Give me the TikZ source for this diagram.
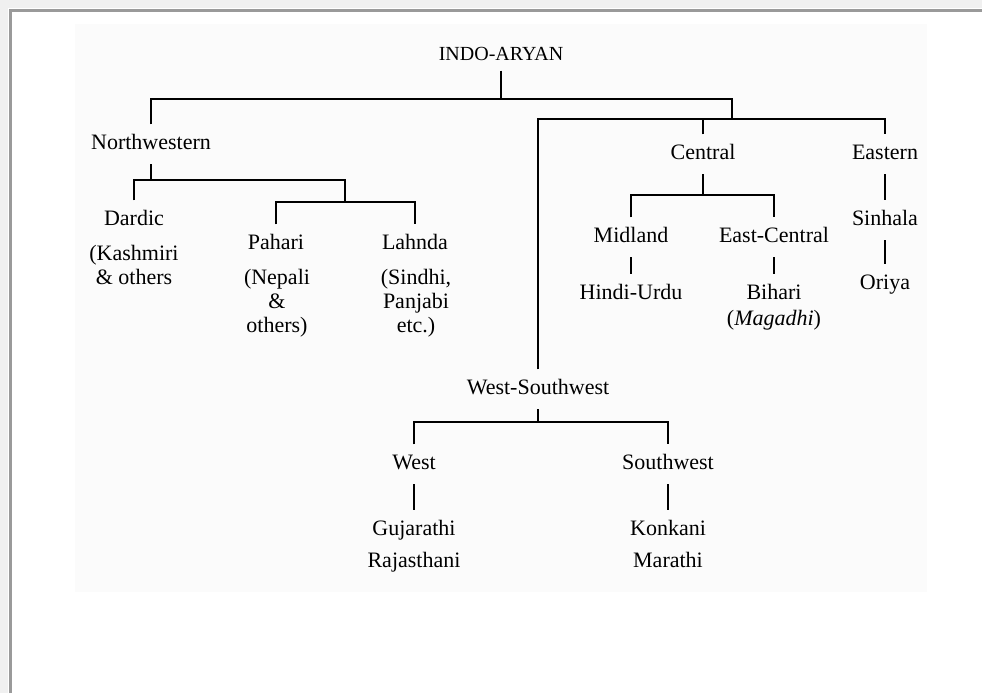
\documentclass[tikz,border=0pt]{standalone}
\usepackage{fontspec}
\setmainfont{Liberation Serif}
\usepackage{tikz}

\definecolor{rim}{HTML}{F0F0F0}
\definecolor{rule}{HTML}{9A9A9A}
\definecolor{paper}{HTML}{FBFBFB}

\tikzset{
	lang/.style={font=\fontsize{16.5}{18}\selectfont, text height=10.9pt, text depth=3.6pt, inner xsep=2pt, inner ysep=7.5pt},
	title/.style={font=\fontsize{15}{18}\selectfont, text height=9.9pt, text depth=3.3pt, inner ysep=4pt},
	gloss/.style={font=\fontsize{16.5}{18}\selectfont, align=center, inner sep=0pt, anchor=north},
	branch/.style={line width=0.8pt},
}

\begin{document}
\begin{tikzpicture}[x=0.75pt, y=-0.75pt]
	
	\useasboundingbox (0,0) rectangle (982,693);
	\fill[rim] (0,0) rectangle (982,693);
	\fill[white] (8,8) rectangle (982,693);
	\draw[rule, line width=2.25pt] (10,693) -- (10,10) -- (982,10);
	\fill[paper] (75,24) rectangle (927,592);
	
	\node[title] (indo) at (501,56.2) {INDO-ARYAN};
	
	\node[lang] (nw) at (151,144.4) {Northwestern};
	\node[lang] (central) at (703,154.4) {Central};
	\node[lang] (eastern) at (885,154.4) {Eastern};
	\node[lang] (wsw) at (538,389.4) {West-Southwest};
	
	\node[lang] (dardic) at (134,220.4) {Dardic};
	\node[gloss] (dardicnote) at (134,245) {(Kashmiri\\\& others};
	\node[lang] (pahari) at (276,244.4) {Pahari};
	\node[gloss] (paharinote) at (277,269) {(Nepali\\\&\\others)};
	\node[lang] (lahnda) at (415,244.4) {Lahnda};
	\node[gloss] (lahndanote) at (416,269) {(Sindhi,\\Panjabi\\etc.)};
	
	\node[lang] (midland) at (631,237.4) {Midland};
	\node[lang] (eastc) at (774,237.4) {East-Central};
	\node[lang] (hindi) at (631,294.4) {Hindi-Urdu};
	\node[lang] (bihari) at (774,294.4) {Bihari};
	\node[gloss] (bihnote) at (774,310) {(\textit{Magadhi})};
	\node[lang] (sinhala) at (885,220.4) {Sinhala};
	\node[lang] (oriya) at (885,284.4) {Oriya};
	
	\node[lang] (west) at (414,464.4) {West};
	\node[lang] (southwest) at (668,464.4) {Southwest};
	\node[lang] (guj) at (414,530.4) {Gujarathi};
	\node[lang] (raj) at (414,562.4) {Rajasthani};
	\node[lang] (konkani) at (668,530.4) {Konkani};
	\node[lang] (marathi) at (668,562.4) {Marathi};
	
	% main fork
	\coordinate (top) at (501,99);
	\coordinate (split) at (732,99);
	\draw[branch] (indo.south) -- (top);
	\draw[branch] (nw.north) |- (split) -- ++(0,20) coordinate (split2);
	\draw[branch] (wsw.north) |- (eastern.north |- split2) -- (eastern.north);
	\draw[branch] (central.north) -- (central.north |- split2);
	
	% northwestern
	\coordinate (nwfork) at (345,180);
	\draw[branch] (nw.south) -- (nw.south |- nwfork);
	\draw[branch] (dardic.north) |- (nwfork) -- ++(0,22) coordinate (plfork);
	\draw[branch] (pahari.north) |- (lahnda.north |- plfork) -- (lahnda.north);
	
	% central and eastern
	\coordinate (cfork) at (703,195);
	\draw[branch] (central.south) -- (cfork);
	\draw[branch] (midland.north) |- (eastc.north |- cfork) -- (eastc.north);
	\draw[branch] (midland.south) -- (hindi.north);
	\draw[branch] (eastc.south) -- (bihari.north);
	\draw[branch] (eastern.south) -- (sinhala.north);
	\draw[branch] (sinhala.south) -- (oriya.north);
	
	% west-southwest
	\coordinate (wfork) at (538,422);
	\draw[branch] (wsw.south) -- (wfork);
	\draw[branch] (west.north) |- (southwest.north |- wfork) -- (southwest.north);
	\draw[branch] (west.south) -- (guj.north);
	\draw[branch] (southwest.south) -- (konkani.north);
	
\end{tikzpicture}
\end{document}
